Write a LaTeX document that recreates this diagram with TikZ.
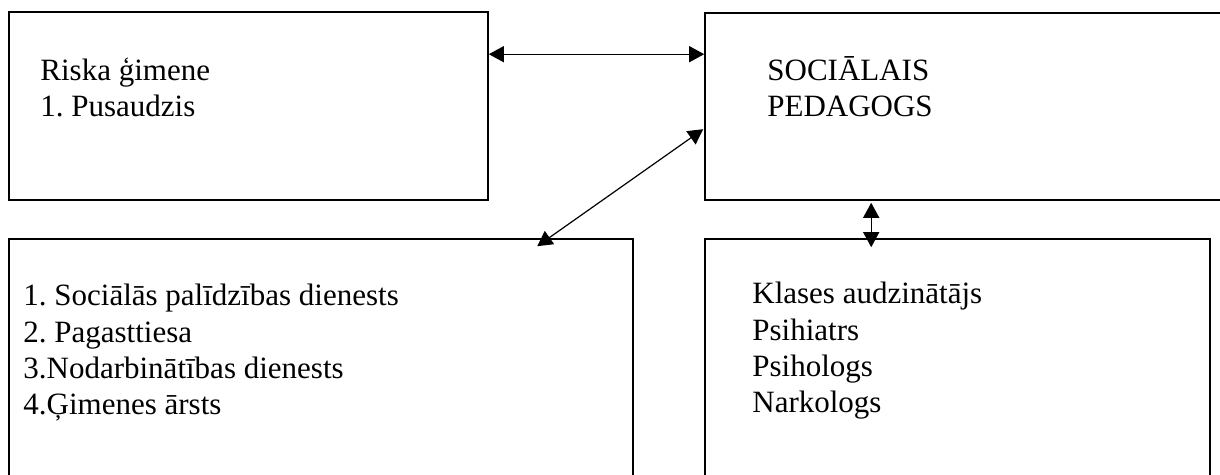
\documentclass[tikz,border=0pt]{standalone}
\usepackage{fontspec}
\setmainfont{Liberation Serif}
\usetikzlibrary{arrows.meta}
\frenchspacing
\begin{document}
\begin{tikzpicture}[x=0.5pt, y=-0.5pt,
      box/.style={draw, line width=0.8pt, rectangle, inner sep=0pt},
      boxtext/.style={anchor=base west, align=left, inner sep=0pt, font=\fontsize{15.5}{18.2}\selectfont},
      link/.style={line width=0.6pt, {Triangle[length=7.5pt,width=8pt]}-{Triangle[length=7.5pt,width=8pt]}}]
      \useasboundingbox (0,0) rectangle (1220,475);
      % boxes
      \node[box, minimum width=239.5pt, minimum height=94pt] (family) at (248.5,106) {};
      \node[box, minimum width=260pt, minimum height=93.5pt] (pedagog) at (965,106.5) {};
      \node[box, minimum width=312pt, minimum height=123pt] (service) at (321,362) {};
      \node[box, minimum width=252.5pt, minimum height=123pt] (team) at (957.5,362) {};
      % texts (anchored at the last line)
      \node[boxtext] (familytext) at (40,117) {Riska ģimene\\1. Pusaudzis};
      \node[boxtext] (pedagogtext) at (767,117) {SOCIĀLAIS\\PEDAGOGS};
      \node[boxtext] (servicetext) at (23,415) {1. Sociālās palīdzības dienests\\2. Pagasttiesa\\3.Nodarbinātības dienests\\4.Ģimenes ārsts};
      \node[boxtext] (teamtext) at (752,413) {Klases audzinātājs\\Psihiatrs\\Psihologs\\Narkologs};
      % arrows
      \draw[link] ([yshift=-21.5pt]family.north east) -- ([yshift=-21pt]pedagog.north west);
      \draw[link] ([xshift=264.5pt, yshift=-4pt]service.north west) -- ([xshift=-0.5pt, yshift=-58.5pt]pedagog.north west);
      \draw[link] ([xshift=83.5pt, yshift=-1pt]pedagog.south west) -- ([xshift=83.5pt, yshift=-4.5pt]team.north west);
   \end{tikzpicture}
\end{document}
